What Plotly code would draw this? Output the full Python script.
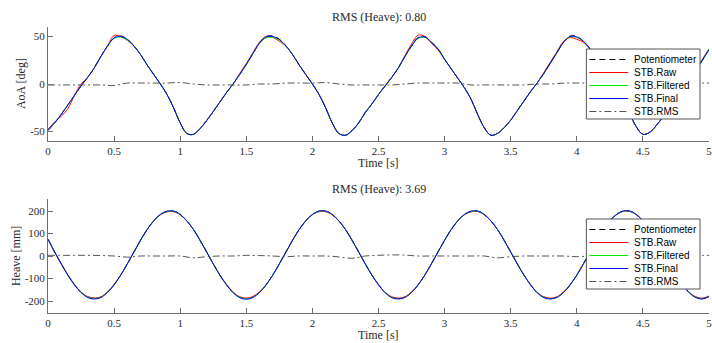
import plotly.graph_objects as go

# ---------------- data ----------------
t = [round(0.05 * k, 2) for k in range(101)]
t_rms = [round(0.1 * k, 1) for k in range(51)]

aoa_pot = [-49, -41, -32, -22, -12, -2, 7, 17, 29, 40, 48.5, 50.5, 47, 40, 31, 20, 10, 0, -11, -25,
           -41, -52, -53, -47, -38.5, -29, -19, -9, 0, 10, 20.5, 32, 43, 50, 50.5, 47, 40, 31, 20, 10,
           0, -11, -25, -41, -52, -54, -49, -41, -30, -21, -11, -2, 7, 17, 29, 40, 49, 50, 44, 37,
           26, 16, 6, -4, -16, -32, -46, -54, -52, -46, -38, -28, -18, -8, 1, 11, 22, 33, 44, 50.5,
           50, 45, 37, 27, 17, 7, -3, -15, -31, -45, -53, -51, -44, -35, -25, -15, -5, 4, 14, 25, 37]
aoa_raw = [-48, -40, -34, -26, -12, 0, 7, 17, 29, 40, 51, 50, 46, 40, 31, 20, 10, 0, -11, -25,
           -41, -52, -53, -47, -38.5, -29, -19, -9, 0, 11, 21.5, 33, 44, 50, 49, 45, 40, 31, 20, 10,
           0, -11, -25, -41, -52, -54, -49, -41, -30, -21, -11, -2, 7, 17, 30, 42, 51.5, 50, 43, 36,
           26, 16, 6, -4, -16, -32, -46, -54, -52, -46, -38, -28, -18, -8, 1, 12, 23, 34, 45, 49,
           47, 44, 37, 27, 17, 7, -3, -15, -31, -45, -53, -51, -44, -35, -25, -15, -5, 5, 15, 26, 37]
aoa_filt = [-49, -41, -32, -22, -12, -2, 7, 17, 29, 40, 48, 49.5, 46, 40, 31, 20, 10, 0, -11, -25,
            -41, -52, -53, -47, -38.5, -29, -19, -9, 0, 10, 20.5, 32, 43, 48.5, 49, 46, 40, 31, 20, 10,
            0, -11, -25, -41, -52, -54, -49, -41, -30, -21, -11, -2, 7, 17, 29, 40, 48, 49, 44, 37,
            26, 16, 6, -4, -16, -32, -46, -54, -52, -46, -38, -28, -18, -8, 1, 11, 22, 33, 44, 49.5,
            49, 45, 37, 27, 17, 7, -3, -15, -31, -45, -53, -51, -44, -35, -25, -15, -5, 4, 14, 25, 37]
aoa_final = [-48, -41, -32, -22, -12, -2, 7, 17, 29, 40, 48.5, 50, 47, 40, 31, 20, 10, 0, -11, -25,
             -41, -52, -53, -47, -38.5, -29, -19, -9, 0, 10, 20.5, 32, 43, 49.5, 50, 47, 40, 31, 20, 10,
             0, -11, -25, -41, -52, -54, -49, -41, -30, -21, -11, -2, 7, 17, 29, 40, 48.5, 49.5, 44, 37,
             26, 16, 6, -4, -16, -32, -46, -54, -52, -46, -38, -28, -18, -8, 1, 11, 22, 33, 44, 50,
             49.5, 45, 37, 27, 17, 7, -3, -15, -31, -45, -53, -51, -44, -35, -25, -15, -5, 4, 14, 25, 36]
aoa_rms = [-1, -1, -1, -1, -1, -1.5, 1, 1, 1, 1, 1.5, 0, -1, -1, -1, -1, 0, 0, 1, 1,
           1, 1.5, 0, -1, -1, -1, -1, 0, 1, 1, 1, 1, -1, -1, -1, -1, -1, 0, 0, 1,
           1, 1, 1, 0, -1, -1, -1, 0, 1, 1, 1]

heave_pot = [75, 18, -35, -85, -128, -162, -183, -190, -183, -162, -128, -85, -35, 18, 70, 118, 156, 184, 198, 199, 184, 156, 118,
             70, 18, -35, -85, -128, -162, -183, -191, -183, -162, -128, -85, -35, 18, 70, 118, 156, 184, 199, 199, 184, 156, 118,
             70, 18, -35, -85, -128, -162, -183, -190, -183, -162, -128, -85, -35, 18, 70, 118, 156, 184, 198, 199, 184, 156, 118,
             70, 18, -35, -85, -128, -162, -183, -190, -183, -162, -128, -85, -35, 18, 70, 118, 156, 184, 199, 199, 184, 156, 118,
             70, 18, -35, -85, -128, -162, -183, -190, -180]
heave_raw = [75, 18, -33, -83, -126, -160, -180, -186, -181, -160, -126, -84, -35, 18, 70, 118, 156, 183, 196, 197, 183, 156, 118,
             70, 18, -35, -84, -126, -160, -181, -187, -180, -160, -127, -85, -35, 18, 70, 118, 156, 183, 197, 197, 183, 156, 118,
             70, 18, -35, -84, -127, -161, -181, -187, -181, -160, -127, -85, -35, 18, 70, 118, 156, 183, 196, 198, 183, 156, 118,
             70, 18, -35, -84, -127, -161, -181, -187, -181, -160, -127, -85, -35, 18, 70, 118, 156, 183, 198, 198, 184, 156, 118,
             70, 18, -35, -84, -127, -161, -181, -187, -178]
heave_filt = [75, 18, -35, -85, -128, -162, -182, -189, -183, -162, -128, -85, -35, 18, 70, 118, 156, 184, 198, 199, 184, 156, 118,
              70, 18, -35, -85, -128, -162, -183, -190, -183, -162, -128, -85, -35, 18, 70, 118, 156, 184, 199, 199, 184, 156, 118,
              70, 18, -35, -85, -128, -162, -183, -190, -183, -162, -128, -85, -35, 18, 70, 118, 156, 184, 198, 199, 184, 156, 118,
              70, 18, -35, -85, -128, -162, -183, -190, -183, -162, -128, -85, -35, 18, 70, 118, 156, 184, 199, 199, 184, 156, 118,
              70, 18, -35, -85, -128, -162, -183, -190, -180]
heave_final = [75, 18, -35, -85, -128, -162, -184, -191, -184, -162, -128, -85, -35, 18, 70, 118, 157, 185, 199, 200, 185, 156, 118,
               70, 18, -35, -85, -128, -163, -185, -192, -184, -162, -128, -85, -35, 18, 70, 118, 157, 185, 200, 200, 185, 156, 118,
               70, 18, -35, -85, -128, -163, -185, -191, -184, -162, -128, -85, -35, 18, 70, 118, 157, 185, 199, 200, 185, 156, 118,
               70, 18, -35, -85, -128, -163, -185, -191, -184, -162, -128, -85, -35, 18, 70, 118, 157, 185, 200, 200, 185, 156, 118,
               70, 18, -35, -85, -128, -163, -185, -191, -181]
heave_rms = [3, 3, 3, 3, 2, 0, -5, 0, 0, 0, 0, -8, -3, 0, 0, 3, 2, 0, -3, 0,
             0, 0, -4, -10, 0, 3, 5, 4, 0, 0, 0, 0, 0, 0, -8, -3, 0, 0, 0, 0,
             -3, 0, 0, 2, 3, 3, 0, -2, 0, 2, 3]

x_tick_vals = [0, 0.5, 1, 1.5, 2, 2.5, 3, 3.5, 4, 4.5, 5]
x_tick_text = ["0", "0.5", "1", "1.5", "2", "2.5", "3", "3.5", "4", "4.5", "5"]
aoa_tick_vals = [-50, 0, 50]
aoa_tick_text = ["-50", "0", "50"]
heave_tick_vals = [-200, -100, 0, 100, 200]
heave_tick_text = ["-200", "-100", "0", "100", "200"]

names = ["Potentiometer", "STB.Raw", "STB.Filtered", "STB.Final", "STB.RMS"]

# ---------------- styling ----------------
SERIF = "Liberation Serif"
SANS = "Liberation Sans"
AX = "#6e6e6e"
TXT = "#2a2a2a"
styles = [
    dict(color="black", width=1, dash="6px,4px"),
    dict(color="#ff0000", width=1),
    dict(color="#00ee00", width=1),
    dict(color="#0000ff", width=1),
    dict(color="#555555", width=1, dash="7px,3px,2px,3px"),
]

fig = go.Figure()

top_series = [(t, aoa_pot), (t, aoa_raw), (t, aoa_filt), (t, aoa_final), (t_rms, aoa_rms)]
bot_series = [(t, heave_pot), (t, heave_raw), (t, heave_filt), (t, heave_final), (t_rms, heave_rms)]

for (xs, ys), name, st in zip(top_series, names, styles):
    fig.add_trace(go.Scatter(x=xs, y=ys, name=name, mode="lines", line=dict(shape="spline", **st),
                             xaxis="x", yaxis="y", showlegend=False))
for (xs, ys), name, st in zip(bot_series, names, styles):
    fig.add_trace(go.Scatter(x=xs, y=ys, name=name, mode="lines", line=dict(shape="spline", **st),
                             xaxis="x2", yaxis="y2", showlegend=False))

H = 343.0
L, PW = 48.0, 663.0
def py(p):
    return 1 - p / H
def px(p):
    return (p - L) / PW

axis_common = dict(showline=True, linecolor=AX, linewidth=1, ticks="inside", ticklen=5,
                   tickcolor=AX, showgrid=False, zeroline=False, mirror=False,
                   ticklabeloverflow="allow",
                   tickfont=dict(family=SERIF, size=11, color=TXT))

fig.update_layout(
    width=712, height=343,
    margin=dict(l=48, r=1, t=0, b=0),
    paper_bgcolor="white", plot_bgcolor="white",
    showlegend=False,
    xaxis=dict(domain=[0, 1], range=[0, 5], anchor="y", tickvals=x_tick_vals, ticktext=x_tick_text, **axis_common),
    yaxis=dict(domain=[py(141), py(27)], range=[-60, 60], anchor="x", tickvals=aoa_tick_vals, ticktext=aoa_tick_text, **axis_common),
    xaxis2=dict(domain=[0, 1], range=[0, 5], anchor="y2", tickvals=x_tick_vals, ticktext=x_tick_text, **axis_common),
    yaxis2=dict(domain=[py(312.7), py(199.3)], range=[-252, 252], anchor="x2", tickvals=heave_tick_vals, ticktext=heave_tick_text, **axis_common),
)

ann_font = dict(family=SERIF, size=12, color=TXT)
annotations = [
    dict(text="RMS (Heave): 0.80", x=0.5, y=py(17)),
    dict(text="Time [s]", x=0.5, y=py(163)),
    dict(text="RMS (Heave): 3.69", x=0.5, y=py(189)),
    dict(text="Time [s]", x=0.5, y=py(335)),
]
for a in annotations:
    fig.add_annotation(xref="paper", yref="paper", showarrow=False, xanchor="center", yanchor="middle",
                       font=ann_font, **a)
fig.add_annotation(text="AoA [deg]", xref="paper", yref="paper", x=px(21), y=py(84),
                   showarrow=False, textangle=-90, xanchor="center", yanchor="middle", font=ann_font)
fig.add_annotation(text="Heave [mm]", xref="paper", yref="paper", x=px(16), y=py(256),
                   showarrow=False, textangle=-90, xanchor="center", yanchor="middle", font=ann_font)

# ---------------- custom compact legends (MATLAB-like) ----------------
def add_legend(top):
    box_l, box_r, box_h = 588, 702, 70
    fig.add_shape(type="rect", xref="paper", yref="paper", layer="above",
                  x0=px(box_l), x1=px(box_r), y0=py(top + box_h), y1=py(top),
                  fillcolor="white", line=dict(color="#555555", width=1))
    for i, (name, st) in enumerate(zip(names, styles)):
        yc = top + 10.5 + 13 * i
        fig.add_shape(type="line", xref="paper", yref="paper", layer="above",
                      x0=px(591), x1=px(630), y0=py(yc), y1=py(yc),
                      line=dict(color=st["color"], width=1, dash=st.get("dash", "solid")))
        fig.add_annotation(text=name, xref="paper", yref="paper", x=px(634), y=py(yc),
                           xanchor="left", yanchor="middle", showarrow=False,
                           font=dict(family=SANS, size=10, color="black"))

add_legend(49)
add_legend(219)

fig.write_html("out.html")
